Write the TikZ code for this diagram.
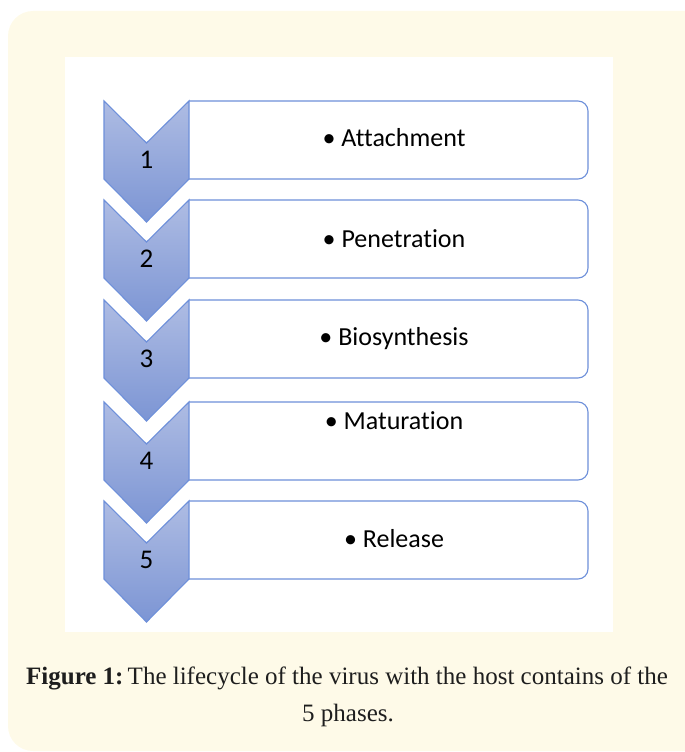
\documentclass[tikz,border=0pt]{standalone}
\usepackage{fontspec}
\setmainfont{Liberation Serif}
\newfontfamily\phasefont[Ligatures=NoCommon]{Carlito}
\definecolor{panelyellow}{HTML}{FEFAE8}
\definecolor{edgeblue}{HTML}{6E90DA}
\definecolor{chevtop}{HTML}{AEBCE3}
\definecolor{chevbottom}{HTML}{7C95D4}
\definecolor{captiongray}{HTML}{1E1E1E}
\tikzset{
  phasebox/.style={draw=edgeblue, line width=1.1pt, fill=white, rounded corners=10pt},
  chevron/.style={draw=edgeblue, line width=1.1pt, top color=chevtop, bottom color=chevbottom, line join=miter},
  phasenum/.style={font=\phasefont\fontsize{27}{30}\selectfont, anchor=base, inner sep=0pt},
  phasetext/.style={font=\phasefont\fontsize{26}{30}\selectfont, anchor=base, inner sep=0pt},
  caption/.style={font=\fontsize{25}{28}\selectfont, text=captiongray, anchor=base, inner sep=0pt}
}
\begin{document}
\begin{tikzpicture}[x=1pt,y=-1pt]
  \useasboundingbox (0,0) rectangle (685,752);
  \fill[panelyellow, rounded corners=25pt] (8,11) rectangle (720,751);
  \fill[white] (65,57) rectangle (613,632);
  % phases
  \foreach \i/\y/\t/\b in {1/101/Attachment/146, 2/200/Penetration/247,
      3/300/Biosynthesis/345, 4/402/Maturation/429, 5/501/Release/547} {
    \draw[phasebox] (189,\y) -- (588,\y) -- (588,\y+78) [sharp corners] -- (189,\y+78);
    \shade[chevron] (104,\y) -- (146.5,\y+42) -- (189,\y) -- (189,\y+78)
      -- (146.5,\y+121) -- (104,\y+78) -- cycle;
    \node[phasenum] (num\i) at (146.5,\y+67) {\i};
    \node[phasetext] (phase\i) at (394,\b) {\textbullet\ \t};
  }
  \node[caption] (cap1) at (347,684) {\textbf{Figure 1:}\,The lifecycle of the virus with the host contains of the};
  \node[caption] (cap2) at (348,721) {5 phases.};
\end{tikzpicture}
\end{document}
